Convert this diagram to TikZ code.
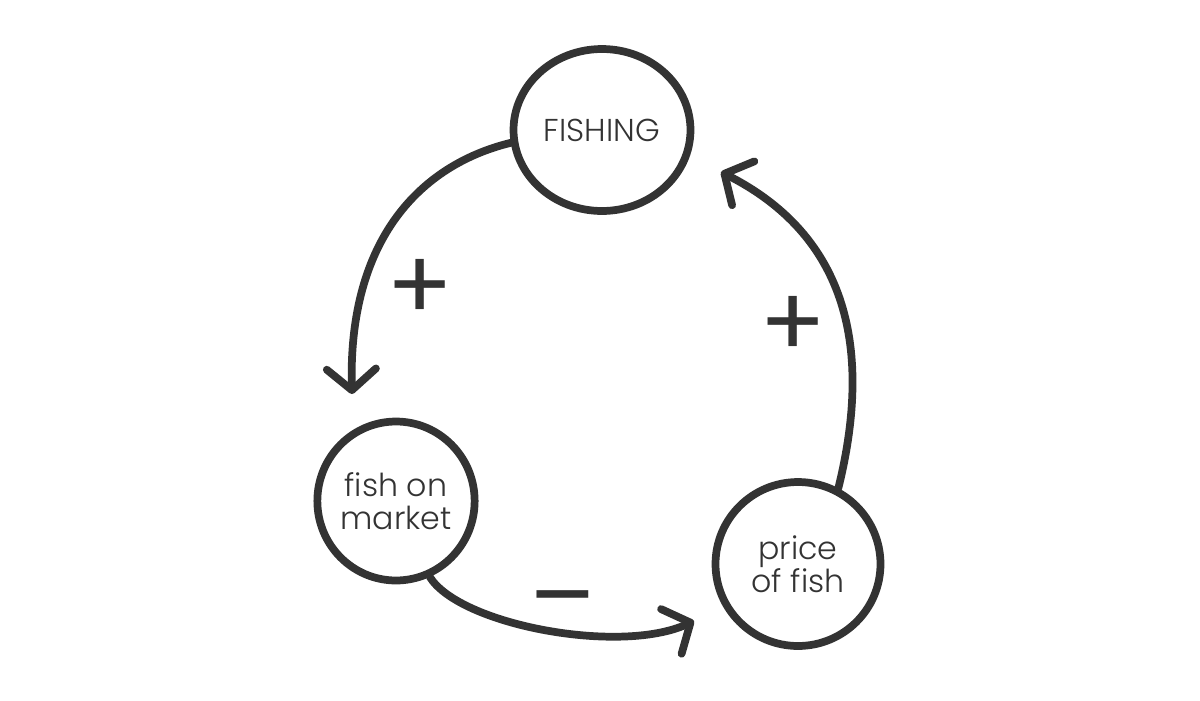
\documentclass[tikz,border=0pt]{standalone}
\usepackage{fontspec}
\setmainfont{Poppins}[UprightFont=* Light, BoldFont=* Regular]
\usepackage{xcolor}
\usetikzlibrary{arrows.meta,shapes.geometric}
\definecolor{ink}{HTML}{333333}

\begin{document}
\begin{tikzpicture}[
  x=0.02cm, y=-0.02cm,
  loopnode/.style={draw=ink, ellipse, line width=4.4pt, inner sep=0pt,
    text=ink, align=center, font=\fontsize{18}{19}\selectfont},
  link/.style={draw=ink, line width=4.4pt, line cap=round,
    -{Straight Barb[length=12pt,width=28pt,line cap=round,line join=round]}},
  sign/.style={text=ink, inner sep=0pt, font=\fontsize{56}{56}\selectfont\bfseries}]
\useasboundingbox (0,0) rectangle (1200,700);
% the three variables of the loop
\node[loopnode, minimum width=3.54cm, minimum height=3.24cm] (fishing) at (602,130) {FISHING};
\node[loopnode, minimum width=2.98cm, minimum height=3.18cm] (market) at (396,501) {fish on\\market};
\node[loopnode, minimum width=3.3cm, minimum height=3.28cm] (price) at (798,564) {price\\of fish};
% free ends of the arrows
\coordinate (tipA) at (352,394);
\coordinate (tipB) at (694,621);
\coordinate (tipC) at (721,172);
\draw[link] (fishing.188) .. controls (420,165) and (348,240) .. (tipA);
\draw[link] (market.-66) .. controls (460,625) and (620,655) .. (tipB);
\draw[link] (price.62) .. controls (870,360) and (855,240) .. (tipC);
% polarity of each link
\node[sign] (plusA) at (420,290) {+};
\node[sign] (plusB) at (793,327) {+};
\node[sign] (minusA) at (563,611) {–};
\end{tikzpicture}
\end{document}
